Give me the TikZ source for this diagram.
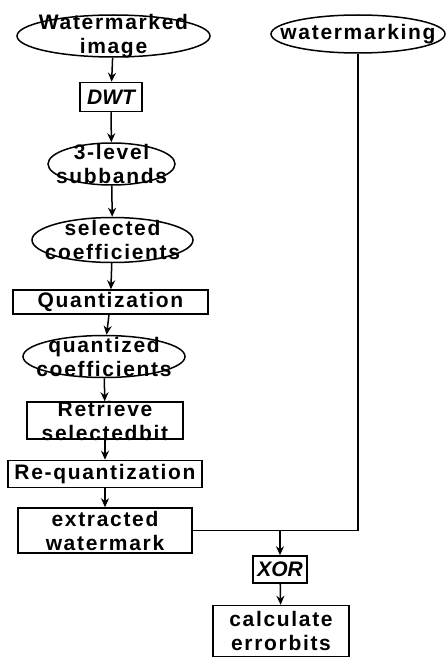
\documentclass[tikz,border=0pt]{standalone}
\usepackage{fontspec}
\setmainfont{Liberation Sans}[LetterSpace=8]
\newfontfamily\tightfont{Liberation Sans}
\usepackage{tikz}
\usetikzlibrary{shapes.geometric, arrows.meta, positioning}
\tikzstyle{blob} = [ellipse, draw=black, line width=1.5pt, inner sep=0pt]
\tikzstyle{stage} = [rectangle, draw=black, line width=1.5pt, inner sep=0pt]
\tikzstyle{txt} = [align=center, inner sep=0pt, font=\fontsize{21}{24}\selectfont\bfseries]
\tikzstyle{arrow} = [line width=1.5pt,->,>={Stealth[length=9pt,width=8pt]}]
\tikzstyle{line} = [line width=1.5pt]
\begin{document}
\begin{tikzpicture}[x=1pt, y=1pt]
  \useasboundingbox (0,0) rectangle (447,-658);
  % extraction column
  \node (wmimg) [blob, minimum width=193pt, minimum height=42pt, label={[txt]center:Watermarked\\image}] at (113.5,-36) {};
  \node (dwt) [stage, below=24pt of wmimg, xshift=-2.5pt, minimum width=62pt, minimum height=29pt, label={[txt]center:\tightfont\itshape DWT}] {};
  \node (subb) [blob, below=30pt of dwt, xshift=0.5pt, minimum width=127pt, minimum height=42pt, label={[txt]center:3-level\\subbands}] {};
  \node (selco) [blob, below=31pt of subb, xshift=1pt, minimum width=161pt, minimum height=45pt, label={[txt]center:selected\\coefficients}] {};
  \node (quant) [stage, below=26pt of selco, xshift=-2pt, minimum width=195pt, minimum height=24pt, label={[txt]center:Quantization}] {};
  \node (qco) [blob, below=20pt of quant, xshift=-6.5pt, minimum width=162pt, minimum height=42pt, label={[txt]center:quantized\\coefficients}] {};
  \node (retr) [stage, below=23pt of qco, xshift=1pt, minimum width=156pt, minimum height=37pt, label={[txt]center:Retrieve\\selectedbit}] {};
  \node (requant) [stage, below=20pt of retr, minimum width=194pt, minimum height=27pt, label={[txt]center:Re-quantization}] {};
  \node (extr) [stage, below=19pt of requant, minimum width=174pt, minimum height=45pt, label={[txt]center:extracted\\watermark}] {};
  % original mark and comparison
  \node (wmark) [blob, minimum width=174pt, minimum height=38pt, label={[txt]center:watermarking}] at (358,-34) {};
  \node (xor) [stage, minimum width=54pt, minimum height=27pt, label={[txt]center:\tightfont\itshape XOR}] at (280,-569.5) {};
  \node (errb) [stage, below=21pt of xor, xshift=1pt, minimum width=136pt, minimum height=51pt, label={[txt]center:calculate\\errorbits}] {};
  \coordinate (junc) at (xor.north |- extr.east);

  \draw[arrow] (wmimg) -- (dwt);
  \draw[arrow] (dwt) -- (subb);
  \draw[arrow] (subb) -- (selco);
  \draw[arrow] (selco) -- (quant);
  \draw[arrow] (quant) -- (qco);
  \draw[arrow] (qco) -- (retr);
  \draw[arrow] (retr) -- (requant);
  \draw[arrow] (requant) -- (extr);
  \draw[line] (extr.east) -| (wmark.south);
  \draw[arrow] (junc) -- (xor);
  \draw[arrow] (xor) -- (errb);
\end{tikzpicture}
\end{document}
